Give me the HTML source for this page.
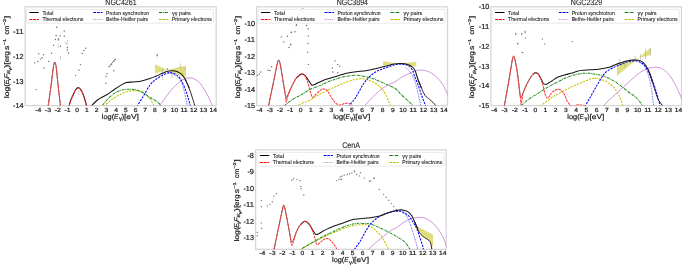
<!DOCTYPE html>
<html><head><meta charset="utf-8"><style>
html,body{margin:0;padding:0;background:#fff;}
svg{display:block;}
text{text-rendering:geometricPrecision;font-family:"Liberation Sans", sans-serif;fill:#1a1a1a;stroke:#1a1a1a;stroke-width:0.2px;}
</style></head><body>
<svg width="682" height="265" viewBox="0 0 682 265">
<rect width="682" height="265" fill="#fff"/>
<g style="will-change:transform" font-size="5.9">
<rect x="25.20" y="6.8" width="191.00" height="98.80" fill="none" stroke="#d6d6d6" stroke-width="1.3"/>
<clipPath id="cNGC4261"><rect x="25.5" y="6.8" width="190.90" height="98.80"/></clipPath>
<g clip-path="url(#cNGC4261)"><polygon points="154.9,64.3 167.5,70.1 185.8,65.6 185.8,78.2 167.5,70.1 154.9,73.4" fill="#dfdf80"/>
<line x1="78.8" y1="90.6" x2="78.8" y2="95.2" stroke="#9a9a9a" stroke-width="0.5"/>
<line x1="58.2" y1="44.5" x2="58.2" y2="48.2" stroke="#9a9a9a" stroke-width="0.5"/>
<line x1="67.2" y1="47.3" x2="67.2" y2="50.6" stroke="#9a9a9a" stroke-width="0.5"/>
<line x1="60.5" y1="55.5" x2="60.5" y2="59.6" stroke="#9a9a9a" stroke-width="0.5"/>
<line x1="67.4" y1="40" x2="67.4" y2="42.3" stroke="#9a9a9a" stroke-width="0.5"/>
<line x1="162.6" y1="68.7" x2="162.6" y2="80" stroke="#9a9a9a" stroke-width="0.5"/>
<line x1="172" y1="71.3" x2="172" y2="78.1" stroke="#9a9a9a" stroke-width="0.5"/>
<line x1="180.3" y1="63.4" x2="180.3" y2="69" stroke="#9a9a9a" stroke-width="0.5"/>
<line x1="185.2" y1="67.5" x2="185.2" y2="70.6" stroke="#9a9a9a" stroke-width="0.5"/>
<line x1="157.2" y1="53.5" x2="157.2" y2="57.2" stroke="#9a9a9a" stroke-width="0.5"/>
<line x1="65.6" y1="42.4" x2="67.6" y2="44.4" stroke="#8a8a8a" stroke-width="1.0"/>
<line x1="108.6" y1="67.2" x2="115.6" y2="58.8" stroke="#8a8a8a" stroke-width="1.0"/>
<circle cx="56.80" cy="27.20" r="0.72" fill="#6e6e6e"/>
<circle cx="64.20" cy="31.00" r="0.72" fill="#6e6e6e"/>
<circle cx="56.10" cy="35.50" r="0.72" fill="#6e6e6e"/>
<circle cx="60.10" cy="35.70" r="0.72" fill="#6e6e6e"/>
<circle cx="64.30" cy="36.30" r="0.72" fill="#6e6e6e"/>
<circle cx="55.40" cy="39.50" r="0.72" fill="#6e6e6e"/>
<circle cx="58.70" cy="39.00" r="0.72" fill="#6e6e6e"/>
<circle cx="58.20" cy="39.90" r="0.72" fill="#6e6e6e"/>
<circle cx="53.50" cy="45.20" r="0.72" fill="#6e6e6e"/>
<circle cx="60.50" cy="46.20" r="0.72" fill="#6e6e6e"/>
<circle cx="51.60" cy="53.20" r="0.72" fill="#6e6e6e"/>
<circle cx="38.80" cy="53.70" r="0.72" fill="#6e6e6e"/>
<circle cx="43.60" cy="54.80" r="0.72" fill="#6e6e6e"/>
<circle cx="42.00" cy="57.70" r="0.72" fill="#6e6e6e"/>
<circle cx="40.30" cy="59.10" r="0.72" fill="#6e6e6e"/>
<circle cx="37.90" cy="61.50" r="0.72" fill="#6e6e6e"/>
<circle cx="34.60" cy="62.90" r="0.72" fill="#6e6e6e"/>
<circle cx="48.80" cy="61.50" r="0.72" fill="#6e6e6e"/>
<circle cx="44.00" cy="68.00" r="0.72" fill="#6e6e6e"/>
<circle cx="67.40" cy="47.30" r="0.72" fill="#6e6e6e"/>
<circle cx="67.40" cy="50.10" r="0.72" fill="#6e6e6e"/>
<circle cx="68.60" cy="53.00" r="0.72" fill="#6e6e6e"/>
<circle cx="85.80" cy="48.20" r="0.72" fill="#6e6e6e"/>
<circle cx="83.90" cy="50.40" r="0.72" fill="#6e6e6e"/>
<circle cx="82.10" cy="53.40" r="0.72" fill="#6e6e6e"/>
<circle cx="80.40" cy="64.60" r="0.72" fill="#6e6e6e"/>
<circle cx="36.20" cy="89.60" r="0.72" fill="#6e6e6e"/>
<circle cx="78.90" cy="70.30" r="0.72" fill="#6e6e6e"/>
<circle cx="75.60" cy="75.60" r="0.72" fill="#6e6e6e"/>
<circle cx="113.80" cy="70.80" r="0.72" fill="#6e6e6e"/>
<circle cx="107.00" cy="73.70" r="0.72" fill="#6e6e6e"/>
<circle cx="106.10" cy="76.50" r="0.72" fill="#6e6e6e"/>
<circle cx="105.90" cy="83.20" r="0.72" fill="#6e6e6e"/>
<circle cx="157.20" cy="55.30" r="0.72" fill="#6e6e6e"/>
<circle cx="167.50" cy="69.00" r="0.72" fill="#6e6e6e"/>
<circle cx="109.20" cy="66.60" r="0.72" fill="#6e6e6e"/>
<circle cx="111.50" cy="64.30" r="0.72" fill="#6e6e6e"/>
<circle cx="114.00" cy="61.20" r="0.72" fill="#6e6e6e"/>
<circle cx="115.20" cy="59.50" r="0.72" fill="#6e6e6e"/>
<path d="M158.50,110.00 C158.72,109.27 158.60,107.73 159.80,105.60 C161.00,103.47 163.42,100.23 165.70,97.20 C167.98,94.17 170.88,90.18 173.50,87.40 C176.12,84.62 179.10,82.05 181.40,80.50 C183.70,78.95 185.50,78.50 187.30,78.10 C189.10,77.70 190.58,77.70 192.20,78.10 C193.82,78.50 195.62,79.57 197.00,80.50 C198.38,81.43 199.28,82.20 200.50,83.70 C201.72,85.20 203.05,87.45 204.30,89.50 C205.55,91.55 206.67,93.32 208.00,96.00 C209.33,98.68 211.38,103.27 212.30,105.60 C213.22,107.93 213.30,109.27 213.50,110.00" stroke="#c47ad2" stroke-width="0.8" fill="none"/>
<path d="M103.60,110.00 C103.72,109.33 102.98,107.68 104.30,106.00 C105.62,104.32 108.87,101.82 111.50,99.90 C114.13,97.98 117.23,95.95 120.10,94.50 C122.97,93.05 126.07,91.83 128.70,91.20 C131.33,90.57 133.52,90.50 135.90,90.70 C138.28,90.90 140.65,91.02 143.00,92.40 C145.35,93.78 148.18,96.80 150.00,99.00 C151.82,101.20 153.15,103.77 153.90,105.60 C154.65,107.43 154.40,109.27 154.50,110.00" stroke="#c4c400" stroke-width="1.05" fill="none" stroke-dasharray="2.2 1.1"/>
<path d="M101.50,110.00 C101.62,109.33 101.02,107.98 102.20,106.00 C103.38,104.02 106.33,100.37 108.60,98.10 C110.87,95.83 113.40,93.78 115.80,92.40 C118.20,91.02 120.62,90.33 123.00,89.80 C125.38,89.27 127.72,89.13 130.10,89.20 C132.48,89.27 135.15,89.62 137.30,90.20 C139.45,90.78 140.88,91.48 143.00,92.70 C145.12,93.92 147.85,96.15 150.00,97.50 C152.15,98.85 154.10,99.45 155.90,100.80 C157.70,102.15 159.87,104.07 160.80,105.60 C161.73,107.13 161.38,109.27 161.50,110.00" stroke="#1a8c1a" stroke-width="1.05" fill="none" stroke-dasharray="2.6 0.8 0.8 0.8"/>
<path d="M168.00,73.20 C168.67,73.27 170.67,73.13 172.00,73.60 C173.33,74.07 174.77,75.18 176.00,76.00 C177.23,76.82 178.40,77.17 179.40,78.50 C180.40,79.83 181.18,81.87 182.00,84.00 C182.82,86.13 183.42,87.70 184.30,91.30 C185.18,94.90 186.68,102.48 187.30,105.60 C187.92,108.72 187.88,109.27 188.00,110.00" stroke="#3333ff" stroke-width="0.8" fill="none" stroke-dasharray="0.8 0.8"/>
<path d="M136.50,110.00 C136.63,109.33 136.22,108.22 137.30,106.00 C138.38,103.78 140.88,100.20 143.00,96.70 C145.12,93.20 147.85,87.87 150.00,85.00 C152.15,82.13 153.93,81.07 155.90,79.50 C157.87,77.93 159.85,76.68 161.80,75.60 C163.75,74.52 165.97,73.47 167.60,73.00 C169.23,72.53 169.95,72.37 171.60,72.80 C173.25,73.23 175.87,74.32 177.50,75.60 C179.13,76.88 180.10,78.22 181.40,80.50 C182.70,82.78 184.17,86.37 185.30,89.30 C186.43,92.23 187.38,95.38 188.20,98.10 C189.02,100.82 189.77,103.62 190.20,105.60 C190.63,107.58 190.70,109.27 190.80,110.00" stroke="#0000ff" stroke-width="1.05" fill="none" stroke-dasharray="2.2 1.1"/>
<path d="M90.50,110.00 C90.73,109.27 90.85,107.18 91.90,105.60 C92.95,104.02 95.45,101.70 96.80,100.50 C98.15,99.30 98.27,99.40 100.00,98.40 C101.73,97.40 104.82,95.98 107.20,94.50 C109.58,93.02 111.92,91.10 114.30,89.50 C116.68,87.90 119.47,86.05 121.50,84.90 C123.53,83.75 124.58,83.10 126.50,82.60 C128.42,82.10 130.48,82.18 133.00,81.90 C135.52,81.62 138.77,81.47 141.60,80.90 C144.43,80.33 147.62,79.28 150.00,78.50 C152.38,77.72 153.93,77.02 155.90,76.20 C157.87,75.38 159.85,74.42 161.80,73.60 C163.75,72.78 165.82,71.78 167.60,71.30 C169.38,70.82 170.85,70.63 172.50,70.70 C174.15,70.77 176.02,71.12 177.50,71.70 C178.98,72.28 180.10,72.90 181.40,74.20 C182.70,75.50 184.00,77.15 185.30,79.50 C186.60,81.85 188.55,86.83 189.20,88.30" stroke="#141414" stroke-width="1.05" fill="none"/>
<path d="M185.30,79.50 C185.95,80.97 188.05,85.35 189.20,88.30 C190.35,91.25 191.28,94.32 192.20,97.20 C193.12,100.08 194.15,103.47 194.70,105.60 C195.25,107.73 195.37,109.27 195.50,110.00" stroke="#3b1838" stroke-width="1.0" fill="none"/>
<path d="M46.50,112.00 C46.78,110.93 47.42,110.20 48.20,105.60 C48.98,101.00 50.33,90.83 51.20,84.40 C52.07,77.97 52.82,70.68 53.40,67.00 C53.98,63.32 54.25,62.38 54.70,62.30 C55.15,62.22 55.55,62.82 56.10,66.50 C56.65,70.18 57.28,77.88 58.00,84.40 C58.72,90.92 59.87,101.00 60.40,105.60 C60.93,110.20 61.07,110.93 61.20,112.00" stroke="#404040" stroke-width="0.85" fill="none"/>
<path d="M68.60,109.55 C68.72,108.82 68.90,106.82 69.30,105.15 C69.70,103.48 70.27,101.48 71.00,99.55 C71.73,97.62 72.93,95.18 73.70,93.55 C74.47,91.92 74.88,90.73 75.60,89.75 C76.32,88.77 77.20,87.75 78.00,87.65 C78.80,87.55 79.60,88.17 80.40,89.15 C81.20,90.13 82.05,91.82 82.80,93.55 C83.55,95.28 84.30,97.62 84.90,99.55 C85.50,101.48 86.05,103.48 86.40,105.15 C86.75,106.82 86.90,108.82 87.00,109.55" stroke="#141414" stroke-width="1.1" fill="none"/>
<path d="M46.50,112.00 C46.78,110.93 47.42,110.20 48.20,105.60 C48.98,101.00 50.33,90.83 51.20,84.40 C52.07,77.97 52.82,70.68 53.40,67.00 C53.98,63.32 54.25,62.38 54.70,62.30 C55.15,62.22 55.55,62.82 56.10,66.50 C56.65,70.18 57.28,77.88 58.00,84.40 C58.72,90.92 59.87,101.00 60.40,105.60 C60.93,110.20 61.07,110.93 61.20,112.00 M68.60,110.00 C68.72,109.27 68.90,107.27 69.30,105.60 C69.70,103.93 70.27,101.93 71.00,100.00 C71.73,98.07 72.93,95.63 73.70,94.00 C74.47,92.37 74.88,91.18 75.60,90.20 C76.32,89.22 77.20,88.20 78.00,88.10 C78.80,88.00 79.60,88.62 80.40,89.60 C81.20,90.58 82.05,92.27 82.80,94.00 C83.55,95.73 84.30,98.07 84.90,100.00 C85.50,101.93 86.05,103.93 86.40,105.60 C86.75,107.27 86.90,109.27 87.00,110.00" stroke="#ff3a3a" stroke-width="1.05" fill="none" stroke-dasharray="2.6 0.8"/></g>
<line x1="38.30" y1="106.10" x2="38.30" y2="107.40" stroke="#e6e6e6" stroke-width="0.6"/>
<line x1="48.03" y1="106.10" x2="48.03" y2="107.40" stroke="#e6e6e6" stroke-width="0.6"/>
<line x1="57.75" y1="106.10" x2="57.75" y2="107.40" stroke="#e6e6e6" stroke-width="0.6"/>
<line x1="67.47" y1="106.10" x2="67.47" y2="107.40" stroke="#e6e6e6" stroke-width="0.6"/>
<line x1="77.19" y1="106.10" x2="77.19" y2="107.40" stroke="#e6e6e6" stroke-width="0.6"/>
<line x1="86.91" y1="106.10" x2="86.91" y2="107.40" stroke="#e6e6e6" stroke-width="0.6"/>
<line x1="96.64" y1="106.10" x2="96.64" y2="107.40" stroke="#e6e6e6" stroke-width="0.6"/>
<line x1="106.36" y1="106.10" x2="106.36" y2="107.40" stroke="#e6e6e6" stroke-width="0.6"/>
<line x1="116.08" y1="106.10" x2="116.08" y2="107.40" stroke="#e6e6e6" stroke-width="0.6"/>
<line x1="125.80" y1="106.10" x2="125.80" y2="107.40" stroke="#e6e6e6" stroke-width="0.6"/>
<line x1="135.52" y1="106.10" x2="135.52" y2="107.40" stroke="#e6e6e6" stroke-width="0.6"/>
<line x1="145.25" y1="106.10" x2="145.25" y2="107.40" stroke="#e6e6e6" stroke-width="0.6"/>
<line x1="154.97" y1="106.10" x2="154.97" y2="107.40" stroke="#e6e6e6" stroke-width="0.6"/>
<line x1="164.69" y1="106.10" x2="164.69" y2="107.40" stroke="#e6e6e6" stroke-width="0.6"/>
<line x1="174.41" y1="106.10" x2="174.41" y2="107.40" stroke="#e6e6e6" stroke-width="0.6"/>
<line x1="184.13" y1="106.10" x2="184.13" y2="107.40" stroke="#e6e6e6" stroke-width="0.6"/>
<line x1="193.85" y1="106.10" x2="193.85" y2="107.40" stroke="#e6e6e6" stroke-width="0.6"/>
<line x1="203.58" y1="106.10" x2="203.58" y2="107.40" stroke="#e6e6e6" stroke-width="0.6"/>
<line x1="213.30" y1="106.10" x2="213.30" y2="107.40" stroke="#e6e6e6" stroke-width="0.6"/>
<line x1="23.70" y1="105.60" x2="25.00" y2="105.60" stroke="#e6e6e6" stroke-width="0.6"/>
<line x1="23.70" y1="80.90" x2="25.00" y2="80.90" stroke="#e6e6e6" stroke-width="0.6"/>
<line x1="23.70" y1="56.20" x2="25.00" y2="56.20" stroke="#e6e6e6" stroke-width="0.6"/>
<line x1="23.70" y1="31.50" x2="25.00" y2="31.50" stroke="#e6e6e6" stroke-width="0.6"/>
<text x="38.30" y="111.60" text-anchor="middle" textLength="6.12" lengthAdjust="spacingAndGlyphs">-4</text>
<text x="48.03" y="111.60" text-anchor="middle" textLength="6.12" lengthAdjust="spacingAndGlyphs">-3</text>
<text x="57.75" y="111.60" text-anchor="middle" textLength="6.12" lengthAdjust="spacingAndGlyphs">-2</text>
<text x="67.47" y="111.60" text-anchor="middle" textLength="6.12" lengthAdjust="spacingAndGlyphs">-1</text>
<text x="77.19" y="111.60" text-anchor="middle" textLength="3.72" lengthAdjust="spacingAndGlyphs">0</text>
<text x="86.91" y="111.60" text-anchor="middle" textLength="3.72" lengthAdjust="spacingAndGlyphs">1</text>
<text x="96.64" y="111.60" text-anchor="middle" textLength="3.72" lengthAdjust="spacingAndGlyphs">2</text>
<text x="106.36" y="111.60" text-anchor="middle" textLength="3.72" lengthAdjust="spacingAndGlyphs">3</text>
<text x="116.08" y="111.60" text-anchor="middle" textLength="3.72" lengthAdjust="spacingAndGlyphs">4</text>
<text x="125.80" y="111.60" text-anchor="middle" textLength="3.72" lengthAdjust="spacingAndGlyphs">5</text>
<text x="135.52" y="111.60" text-anchor="middle" textLength="3.72" lengthAdjust="spacingAndGlyphs">6</text>
<text x="145.25" y="111.60" text-anchor="middle" textLength="3.72" lengthAdjust="spacingAndGlyphs">7</text>
<text x="154.97" y="111.60" text-anchor="middle" textLength="3.72" lengthAdjust="spacingAndGlyphs">8</text>
<text x="164.69" y="111.60" text-anchor="middle" textLength="3.72" lengthAdjust="spacingAndGlyphs">9</text>
<text x="174.41" y="111.60" text-anchor="middle" textLength="7.44" lengthAdjust="spacingAndGlyphs">10</text>
<text x="184.13" y="111.60" text-anchor="middle" textLength="7.44" lengthAdjust="spacingAndGlyphs">11</text>
<text x="193.85" y="111.60" text-anchor="middle" textLength="7.44" lengthAdjust="spacingAndGlyphs">12</text>
<text x="203.58" y="111.60" text-anchor="middle" textLength="7.44" lengthAdjust="spacingAndGlyphs">13</text>
<text x="213.30" y="111.60" text-anchor="middle" textLength="7.44" lengthAdjust="spacingAndGlyphs">14</text>
<text x="23.50" y="108.20" text-anchor="end" font-size="7.3" textLength="10.43" lengthAdjust="spacingAndGlyphs">-14</text>
<text x="23.50" y="83.50" text-anchor="end" font-size="7.3" textLength="10.43" lengthAdjust="spacingAndGlyphs">-13</text>
<text x="23.50" y="58.80" text-anchor="end" font-size="7.3" textLength="10.43" lengthAdjust="spacingAndGlyphs">-12</text>
<text x="23.50" y="34.10" text-anchor="end" font-size="7.3" textLength="10.43" lengthAdjust="spacingAndGlyphs">-11</text>
<text x="101.80" y="118.70" font-size="7.0" textLength="12.30" lengthAdjust="spacingAndGlyphs">log(</text>
<text x="114.00" y="118.70" font-size="7.0" textLength="4.30" lengthAdjust="spacingAndGlyphs" font-style="italic">E</text>
<text x="118.90" y="120.20" font-size="5.2" textLength="3.00" lengthAdjust="spacingAndGlyphs">γ</text>
<text x="121.70" y="118.70" font-size="7.0" textLength="2.40" lengthAdjust="spacingAndGlyphs">)</text>
<text x="123.90" y="118.70" font-size="7.0" textLength="15.00" lengthAdjust="spacingAndGlyphs">[eV]</text>
<g transform="translate(8.50,98.00) rotate(-90)"><text x="-0.25" y="0" font-size="6.8" textLength="14.40" lengthAdjust="spacingAndGlyphs">log(</text><text x="13.65" y="0" font-size="6.8" textLength="4.40" lengthAdjust="spacingAndGlyphs" font-style="italic">E</text><text x="17.25" y="1.4" font-size="4.5" textLength="2.50" lengthAdjust="spacingAndGlyphs">γ</text><text x="19.45" y="0" font-size="6.8" textLength="4.70" lengthAdjust="spacingAndGlyphs" font-style="italic">F</text><text x="23.95" y="1.4" font-size="4.4" textLength="3.70" lengthAdjust="spacingAndGlyphs" font-style="italic">E</text><text x="27.15" y="2.0" font-size="3.2" textLength="3.10" lengthAdjust="spacingAndGlyphs">γ</text><text x="29.95" y="0" font-size="6.8" textLength="6.20" lengthAdjust="spacingAndGlyphs">)[</text><text x="35.65" y="0" font-size="6.8" textLength="11.20" lengthAdjust="spacingAndGlyphs">erg</text><text x="48.05" y="0" font-size="6.8" textLength="4.40" lengthAdjust="spacingAndGlyphs">s</text><text x="52.65" y="-3.0" font-size="4.2" textLength="6.50" lengthAdjust="spacingAndGlyphs">−1</text><text x="63.45" y="0" font-size="6.8" textLength="9.00" lengthAdjust="spacingAndGlyphs">cm</text><text x="72.65" y="-3.0" font-size="4.2" textLength="6.50" lengthAdjust="spacingAndGlyphs">−2</text><text x="79.45" y="0" font-size="6.8" textLength="2.70" lengthAdjust="spacingAndGlyphs">]</text></g>
<text x="120.95" y="5.10" text-anchor="middle" font-size="8.3" style="stroke-width:0.1px" textLength="31.3" lengthAdjust="spacingAndGlyphs">NGC4261</text>
<rect x="26.50" y="9.40" width="187" height="13.8" rx="1.2" fill="#fff" fill-opacity="0.8" stroke="#e4e4e4" stroke-width="0.8"/>
<line x1="29.40" y1="12.50" x2="38.80" y2="12.50" stroke="#000" stroke-width="1.0"/>
<text x="42.40" y="14.50" font-size="5.7" style="stroke-width:0.1px" textLength="11.0" lengthAdjust="spacingAndGlyphs">Total</text>
<line x1="29.40" y1="19.50" x2="38.80" y2="19.50" stroke="#ff0000" stroke-width="1.0" stroke-dasharray="3.0 0.75"/>
<text x="42.40" y="21.20" font-size="5.7" style="stroke-width:0.1px" textLength="41.0" lengthAdjust="spacingAndGlyphs">Thermal electrons</text>
<line x1="93.20" y1="12.50" x2="102.60" y2="12.50" stroke="#0000ff" stroke-width="1.0" stroke-dasharray="3.0 0.75"/>
<text x="106.00" y="14.50" font-size="5.7" style="stroke-width:0.1px" textLength="43.2" lengthAdjust="spacingAndGlyphs">Proton synchrotron</text>
<line x1="93.20" y1="19.50" x2="102.60" y2="19.50" stroke="#c47ad2" stroke-width="1.0" stroke-dasharray="0.9 0.9"/>
<text x="106.00" y="21.20" font-size="5.7" style="stroke-width:0.1px" textLength="42.1" lengthAdjust="spacingAndGlyphs">Bethe-Heitler pairs</text>
<line x1="159.00" y1="12.50" x2="168.40" y2="12.50" stroke="#008000" stroke-width="1.0" stroke-dasharray="3.2 0.8 0.8 0.8"/>
<text x="171.90" y="14.50" font-size="5.7" style="stroke-width:0.1px" textLength="19.0" lengthAdjust="spacingAndGlyphs">γγ pairs</text>
<line x1="159.00" y1="19.50" x2="168.40" y2="19.50" stroke="#bfbf00" stroke-width="1.0" stroke-dasharray="3.0 0.75"/>
<text x="171.90" y="21.20" font-size="5.7" style="stroke-width:0.1px" textLength="40.0" lengthAdjust="spacingAndGlyphs">Primary electrons</text>
<rect x="256.70" y="6.8" width="190.80" height="98.80" fill="none" stroke="#d6d6d6" stroke-width="1.3"/>
<clipPath id="cNGC3894"><rect x="257.0" y="6.8" width="190.70" height="98.80"/></clipPath>
<g clip-path="url(#cNGC3894)"><polygon points="383.1,60.9 398,63.7 416.3,61.8 416.3,66.8 398,63.7 383.1,65.4" fill="#dfdf80"/>
<circle cx="271.60" cy="66.80" r="0.72" fill="#6e6e6e"/>
<circle cx="268.00" cy="70.30" r="0.72" fill="#6e6e6e"/>
<circle cx="270.00" cy="70.50" r="0.72" fill="#6e6e6e"/>
<circle cx="260.80" cy="72.00" r="0.72" fill="#6e6e6e"/>
<circle cx="259.40" cy="73.90" r="0.72" fill="#6e6e6e"/>
<circle cx="257.60" cy="75.30" r="0.72" fill="#6e6e6e"/>
<circle cx="308.40" cy="64.40" r="0.72" fill="#6e6e6e"/>
<circle cx="335.00" cy="60.90" r="0.72" fill="#6e6e6e"/>
<circle cx="337.70" cy="64.40" r="0.72" fill="#6e6e6e"/>
<circle cx="339.80" cy="66.20" r="0.72" fill="#6e6e6e"/>
<circle cx="332.40" cy="68.00" r="0.72" fill="#6e6e6e"/>
<circle cx="332.70" cy="72.00" r="0.72" fill="#6e6e6e"/>
<circle cx="337.70" cy="72.70" r="0.72" fill="#6e6e6e"/>
<circle cx="296.50" cy="25.30" r="0.72" fill="#6e6e6e"/>
<circle cx="291.20" cy="32.40" r="0.72" fill="#6e6e6e"/>
<circle cx="295.00" cy="31.80" r="0.72" fill="#6e6e6e"/>
<circle cx="281.40" cy="36.90" r="0.72" fill="#6e6e6e"/>
<circle cx="287.40" cy="36.30" r="0.72" fill="#6e6e6e"/>
<circle cx="283.70" cy="41.90" r="0.72" fill="#6e6e6e"/>
<circle cx="290.50" cy="44.90" r="0.72" fill="#6e6e6e"/>
<circle cx="289.00" cy="47.50" r="0.72" fill="#6e6e6e"/>
<circle cx="296.40" cy="24.90" r="0.72" fill="#6e6e6e"/>
<circle cx="306.60" cy="25.50" r="0.72" fill="#6e6e6e"/>
<circle cx="308.10" cy="28.80" r="0.72" fill="#6e6e6e"/>
<circle cx="291.50" cy="32.20" r="0.72" fill="#6e6e6e"/>
<circle cx="290.80" cy="44.20" r="0.72" fill="#6e6e6e"/>
<circle cx="308.10" cy="43.50" r="0.72" fill="#6e6e6e"/>
<circle cx="307.70" cy="52.20" r="0.72" fill="#6e6e6e"/>
<circle cx="308.30" cy="36.00" r="0.72" fill="#6e6e6e"/>
<circle cx="302.60" cy="8.50" r="0.72" fill="#a0a0a0"/>
<circle cx="301.00" cy="10.80" r="0.72" fill="#a0a0a0"/>
<circle cx="303.80" cy="11.90" r="0.72" fill="#a0a0a0"/>
<circle cx="298.70" cy="14.20" r="0.72" fill="#a0a0a0"/>
<circle cx="305.50" cy="15.90" r="0.72" fill="#a0a0a0"/>
<path d="M363.00,110.00 C363.30,109.27 362.70,108.23 364.80,105.60 C366.90,102.97 372.17,97.40 375.60,94.20 C379.03,91.00 382.17,88.48 385.40,86.40 C388.63,84.32 392.38,83.17 395.00,81.70 C397.62,80.23 399.35,78.67 401.10,77.60 C402.85,76.53 404.00,76.05 405.50,75.30 C407.00,74.55 408.57,73.82 410.10,73.10 C411.63,72.38 413.18,71.48 414.70,71.00 C416.22,70.52 417.65,70.32 419.20,70.20 C420.75,70.08 422.12,69.90 424.00,70.30 C425.88,70.70 428.23,71.33 430.50,72.60 C432.77,73.87 435.53,75.87 437.60,77.90 C439.67,79.93 441.28,82.17 442.90,84.80 C444.52,87.43 446.28,91.67 447.30,93.70 C448.32,95.73 448.72,96.45 449.00,97.00" stroke="#c47ad2" stroke-width="0.8" fill="none"/>
<path d="M296.00,110.00 C296.22,109.27 294.88,107.30 297.30,105.60 C299.72,103.90 306.82,101.65 310.50,99.80 C314.18,97.95 316.35,96.18 319.40,94.50 C322.45,92.82 325.75,91.17 328.80,89.70 C331.85,88.23 334.75,86.97 337.70,85.70 C340.65,84.43 343.55,83.13 346.50,82.10 C349.45,81.07 352.52,80.03 355.40,79.50 C358.28,78.97 361.08,78.57 363.80,78.90 C366.52,79.23 369.08,80.25 371.70,81.50 C374.32,82.75 377.22,84.28 379.50,86.40 C381.78,88.52 383.60,91.00 385.40,94.20 C387.20,97.40 389.37,102.97 390.30,105.60 C391.23,108.23 390.88,109.27 391.00,110.00" stroke="#c4c400" stroke-width="1.05" fill="none" stroke-dasharray="2.2 1.1"/>
<path d="M282.00,110.00 C282.42,109.27 282.70,107.38 284.50,105.60 C286.30,103.82 289.93,101.15 292.80,99.30 C295.67,97.45 298.75,96.18 301.70,94.50 C304.65,92.82 307.55,90.67 310.50,89.20 C313.45,87.73 316.35,86.98 319.40,85.70 C322.45,84.42 325.75,82.70 328.80,81.50 C331.85,80.30 334.75,79.37 337.70,78.50 C340.65,77.63 343.45,76.83 346.50,76.30 C349.55,75.77 352.78,75.25 356.00,75.30 C359.22,75.35 362.53,75.90 365.80,76.60 C369.07,77.30 372.33,78.27 375.60,79.50 C378.87,80.73 382.15,82.50 385.40,84.00 C388.65,85.50 392.32,86.58 395.10,88.50 C397.88,90.42 399.75,93.30 402.10,95.50 C404.45,97.70 407.43,100.00 409.20,101.70 C410.97,103.40 411.98,104.32 412.70,105.70 C413.42,107.08 413.37,109.28 413.50,110.00" stroke="#1a8c1a" stroke-width="1.05" fill="none" stroke-dasharray="2.6 0.8 0.8 0.8"/>
<path d="M405.60,67.40 C406.35,68.20 408.82,70.50 410.10,72.20 C411.38,73.90 412.38,75.72 413.30,77.60 C414.22,79.48 414.77,80.67 415.60,83.50 C416.43,86.33 417.42,90.90 418.30,94.60 C419.18,98.30 420.38,103.13 420.90,105.70 C421.42,108.27 421.32,109.28 421.40,110.00" stroke="#3333ff" stroke-width="0.8" fill="none" stroke-dasharray="0.8 0.8"/>
<path d="M347.50,110.00 C347.78,109.27 347.88,107.60 349.20,105.60 C350.52,103.60 353.28,101.20 355.40,98.00 C357.52,94.80 359.83,89.65 361.90,86.40 C363.97,83.15 365.45,80.95 367.80,78.50 C370.15,76.05 373.12,73.43 376.00,71.70 C378.88,69.97 382.08,69.23 385.10,68.10 C388.12,66.97 391.38,65.53 394.10,64.90 C396.82,64.27 399.13,64.22 401.40,64.30 C403.67,64.38 405.90,64.53 407.70,65.40 C409.50,66.27 411.07,67.73 412.20,69.50 C413.33,71.27 413.53,73.45 414.50,76.00 C415.47,78.55 416.82,81.55 418.00,84.80 C419.18,88.05 420.55,92.53 421.60,95.50 C422.65,98.47 423.65,100.90 424.30,102.60 C424.95,104.30 425.22,104.47 425.50,105.70 C425.78,106.93 425.92,109.28 426.00,110.00" stroke="#0000ff" stroke-width="1.05" fill="none" stroke-dasharray="2.2 1.1"/>
<path d="M296.20,78.20 C296.98,77.53 299.55,74.75 300.90,74.20 C302.25,73.65 303.05,73.90 304.30,74.90 C305.55,75.90 307.15,78.52 308.40,80.20 C309.65,81.88 310.67,84.33 311.80,85.00 C312.93,85.67 313.50,84.88 315.20,84.20 C316.90,83.52 319.53,81.90 322.00,80.90 C324.47,79.90 327.38,79.03 330.00,78.20 C332.62,77.37 334.95,76.72 337.70,75.90 C340.45,75.08 343.45,74.00 346.50,73.30 C349.55,72.60 352.78,72.13 356.00,71.70 C359.22,71.27 362.53,71.20 365.80,70.70 C369.07,70.20 372.38,69.43 375.60,68.70 C378.82,67.97 382.02,67.08 385.10,66.30 C388.18,65.52 391.38,64.45 394.10,64.00 C396.82,63.55 399.13,63.52 401.40,63.60 C403.67,63.68 405.90,63.97 407.70,64.50 C409.50,65.03 410.98,65.82 412.20,66.80 C413.42,67.78 414.03,68.28 415.00,70.40 C415.97,72.52 416.90,76.50 418.00,79.50 C419.10,82.50 421.00,86.92 421.60,88.40" stroke="#141414" stroke-width="1.05" fill="none"/>
<path d="M418.00,79.50 C418.60,80.98 420.42,85.73 421.60,88.40 C422.78,91.07 423.77,93.67 425.10,95.50 C426.43,97.33 428.27,98.22 429.60,99.40 C430.93,100.58 432.07,101.55 433.10,102.60 C434.13,103.65 435.15,104.47 435.80,105.70 C436.45,106.93 436.80,109.28 437.00,110.00" stroke="#3b1838" stroke-width="1.0" fill="none"/>
<path d="M267.80,110.00 C267.93,109.25 267.65,110.17 268.60,105.50 C269.55,100.83 272.07,88.92 273.50,82.00 C274.93,75.08 276.35,67.62 277.20,64.00 C278.05,60.38 278.10,60.30 278.60,60.30 C279.10,60.30 279.43,60.38 280.20,64.00 C280.97,67.62 282.22,76.50 283.20,82.00 C284.18,87.50 285.30,94.93 286.10,97.00 C286.90,99.07 287.00,96.28 288.00,94.40 C289.00,92.52 290.73,88.40 292.10,85.70 C293.47,83.00 294.73,80.12 296.20,78.20 C297.67,76.28 299.55,74.75 300.90,74.20 C302.25,73.65 303.73,74.78 304.30,74.90" stroke="#404040" stroke-width="0.85" fill="none"/>
<path d="M267.80,110.00 C267.93,109.25 267.65,110.17 268.60,105.50 C269.55,100.83 272.07,88.92 273.50,82.00 C274.93,75.08 276.35,67.62 277.20,64.00 C278.05,60.38 278.10,60.30 278.60,60.30 C279.10,60.30 279.43,60.38 280.20,64.00 C280.97,67.62 282.30,76.50 283.20,82.00 C284.10,87.50 285.08,93.67 285.60,97.00 C286.12,100.33 285.87,102.33 286.30,102.00 C286.73,101.67 287.23,97.72 288.20,95.00 C289.17,92.28 290.77,88.50 292.10,85.70 C293.43,82.90 294.73,80.12 296.20,78.20 C297.67,76.28 299.55,74.70 300.90,74.20 C302.25,73.70 303.22,74.02 304.30,75.20 C305.38,76.38 306.53,79.05 307.40,81.30 C308.27,83.55 308.88,86.50 309.50,88.70 C310.12,90.90 310.58,93.05 311.10,94.50 C311.62,95.95 311.82,97.40 312.60,97.40 C313.38,97.40 314.55,95.67 315.80,94.50 C317.05,93.33 318.82,91.33 320.10,90.40 C321.38,89.47 322.27,88.83 323.50,88.90 C324.73,88.97 326.32,89.57 327.50,90.80 C328.68,92.03 329.35,94.35 330.60,96.30 C331.85,98.25 333.52,101.03 335.00,102.50 C336.48,103.97 337.87,104.95 339.50,105.10 C341.13,105.25 343.18,103.65 344.80,103.40 C346.42,103.15 348.02,103.27 349.20,103.60 C350.38,103.93 351.27,104.33 351.90,105.40 C352.53,106.47 352.82,109.23 353.00,110.00" stroke="#ff3a3a" stroke-width="1.05" fill="none" stroke-dasharray="2.6 0.8"/></g>
<line x1="259.60" y1="106.10" x2="259.60" y2="107.40" stroke="#e6e6e6" stroke-width="0.6"/>
<line x1="269.85" y1="106.10" x2="269.85" y2="107.40" stroke="#e6e6e6" stroke-width="0.6"/>
<line x1="280.10" y1="106.10" x2="280.10" y2="107.40" stroke="#e6e6e6" stroke-width="0.6"/>
<line x1="290.35" y1="106.10" x2="290.35" y2="107.40" stroke="#e6e6e6" stroke-width="0.6"/>
<line x1="300.60" y1="106.10" x2="300.60" y2="107.40" stroke="#e6e6e6" stroke-width="0.6"/>
<line x1="310.85" y1="106.10" x2="310.85" y2="107.40" stroke="#e6e6e6" stroke-width="0.6"/>
<line x1="321.10" y1="106.10" x2="321.10" y2="107.40" stroke="#e6e6e6" stroke-width="0.6"/>
<line x1="331.35" y1="106.10" x2="331.35" y2="107.40" stroke="#e6e6e6" stroke-width="0.6"/>
<line x1="341.60" y1="106.10" x2="341.60" y2="107.40" stroke="#e6e6e6" stroke-width="0.6"/>
<line x1="351.85" y1="106.10" x2="351.85" y2="107.40" stroke="#e6e6e6" stroke-width="0.6"/>
<line x1="362.10" y1="106.10" x2="362.10" y2="107.40" stroke="#e6e6e6" stroke-width="0.6"/>
<line x1="372.35" y1="106.10" x2="372.35" y2="107.40" stroke="#e6e6e6" stroke-width="0.6"/>
<line x1="382.60" y1="106.10" x2="382.60" y2="107.40" stroke="#e6e6e6" stroke-width="0.6"/>
<line x1="392.85" y1="106.10" x2="392.85" y2="107.40" stroke="#e6e6e6" stroke-width="0.6"/>
<line x1="403.10" y1="106.10" x2="403.10" y2="107.40" stroke="#e6e6e6" stroke-width="0.6"/>
<line x1="413.35" y1="106.10" x2="413.35" y2="107.40" stroke="#e6e6e6" stroke-width="0.6"/>
<line x1="423.60" y1="106.10" x2="423.60" y2="107.40" stroke="#e6e6e6" stroke-width="0.6"/>
<line x1="433.85" y1="106.10" x2="433.85" y2="107.40" stroke="#e6e6e6" stroke-width="0.6"/>
<line x1="444.10" y1="106.10" x2="444.10" y2="107.40" stroke="#e6e6e6" stroke-width="0.6"/>
<line x1="255.20" y1="105.60" x2="256.50" y2="105.60" stroke="#e6e6e6" stroke-width="0.6"/>
<line x1="255.20" y1="89.13" x2="256.50" y2="89.13" stroke="#e6e6e6" stroke-width="0.6"/>
<line x1="255.20" y1="72.67" x2="256.50" y2="72.67" stroke="#e6e6e6" stroke-width="0.6"/>
<line x1="255.20" y1="56.20" x2="256.50" y2="56.20" stroke="#e6e6e6" stroke-width="0.6"/>
<line x1="255.20" y1="39.73" x2="256.50" y2="39.73" stroke="#e6e6e6" stroke-width="0.6"/>
<line x1="255.20" y1="23.27" x2="256.50" y2="23.27" stroke="#e6e6e6" stroke-width="0.6"/>
<text x="259.60" y="111.60" text-anchor="middle" textLength="6.12" lengthAdjust="spacingAndGlyphs">-4</text>
<text x="269.85" y="111.60" text-anchor="middle" textLength="6.12" lengthAdjust="spacingAndGlyphs">-3</text>
<text x="280.10" y="111.60" text-anchor="middle" textLength="6.12" lengthAdjust="spacingAndGlyphs">-2</text>
<text x="290.35" y="111.60" text-anchor="middle" textLength="6.12" lengthAdjust="spacingAndGlyphs">-1</text>
<text x="300.60" y="111.60" text-anchor="middle" textLength="3.72" lengthAdjust="spacingAndGlyphs">0</text>
<text x="310.85" y="111.60" text-anchor="middle" textLength="3.72" lengthAdjust="spacingAndGlyphs">1</text>
<text x="321.10" y="111.60" text-anchor="middle" textLength="3.72" lengthAdjust="spacingAndGlyphs">2</text>
<text x="331.35" y="111.60" text-anchor="middle" textLength="3.72" lengthAdjust="spacingAndGlyphs">3</text>
<text x="341.60" y="111.60" text-anchor="middle" textLength="3.72" lengthAdjust="spacingAndGlyphs">4</text>
<text x="351.85" y="111.60" text-anchor="middle" textLength="3.72" lengthAdjust="spacingAndGlyphs">5</text>
<text x="362.10" y="111.60" text-anchor="middle" textLength="3.72" lengthAdjust="spacingAndGlyphs">6</text>
<text x="372.35" y="111.60" text-anchor="middle" textLength="3.72" lengthAdjust="spacingAndGlyphs">7</text>
<text x="382.60" y="111.60" text-anchor="middle" textLength="3.72" lengthAdjust="spacingAndGlyphs">8</text>
<text x="392.85" y="111.60" text-anchor="middle" textLength="3.72" lengthAdjust="spacingAndGlyphs">9</text>
<text x="403.10" y="111.60" text-anchor="middle" textLength="7.44" lengthAdjust="spacingAndGlyphs">10</text>
<text x="413.35" y="111.60" text-anchor="middle" textLength="7.44" lengthAdjust="spacingAndGlyphs">11</text>
<text x="423.60" y="111.60" text-anchor="middle" textLength="7.44" lengthAdjust="spacingAndGlyphs">12</text>
<text x="433.85" y="111.60" text-anchor="middle" textLength="7.44" lengthAdjust="spacingAndGlyphs">13</text>
<text x="444.10" y="111.60" text-anchor="middle" textLength="7.44" lengthAdjust="spacingAndGlyphs">14</text>
<text x="255.00" y="108.20" text-anchor="end" font-size="7.3" textLength="10.43" lengthAdjust="spacingAndGlyphs">-15</text>
<text x="255.00" y="91.73" text-anchor="end" font-size="7.3" textLength="10.43" lengthAdjust="spacingAndGlyphs">-14</text>
<text x="255.00" y="75.27" text-anchor="end" font-size="7.3" textLength="10.43" lengthAdjust="spacingAndGlyphs">-13</text>
<text x="255.00" y="58.80" text-anchor="end" font-size="7.3" textLength="10.43" lengthAdjust="spacingAndGlyphs">-12</text>
<text x="255.00" y="42.33" text-anchor="end" font-size="7.3" textLength="10.43" lengthAdjust="spacingAndGlyphs">-11</text>
<text x="255.00" y="25.87" text-anchor="end" font-size="7.3" textLength="10.43" lengthAdjust="spacingAndGlyphs">-10</text>
<text x="333.20" y="118.70" font-size="7.0" textLength="12.30" lengthAdjust="spacingAndGlyphs">log(</text>
<text x="345.40" y="118.70" font-size="7.0" textLength="4.30" lengthAdjust="spacingAndGlyphs" font-style="italic">E</text>
<text x="350.30" y="120.20" font-size="5.2" textLength="3.00" lengthAdjust="spacingAndGlyphs">γ</text>
<text x="353.10" y="118.70" font-size="7.0" textLength="2.40" lengthAdjust="spacingAndGlyphs">)</text>
<text x="355.30" y="118.70" font-size="7.0" textLength="15.00" lengthAdjust="spacingAndGlyphs">[eV]</text>
<g transform="translate(240.00,98.00) rotate(-90)"><text x="-0.25" y="0" font-size="6.8" textLength="14.40" lengthAdjust="spacingAndGlyphs">log(</text><text x="13.65" y="0" font-size="6.8" textLength="4.40" lengthAdjust="spacingAndGlyphs" font-style="italic">E</text><text x="17.25" y="1.4" font-size="4.5" textLength="2.50" lengthAdjust="spacingAndGlyphs">γ</text><text x="19.45" y="0" font-size="6.8" textLength="4.70" lengthAdjust="spacingAndGlyphs" font-style="italic">F</text><text x="23.95" y="1.4" font-size="4.4" textLength="3.70" lengthAdjust="spacingAndGlyphs" font-style="italic">E</text><text x="27.15" y="2.0" font-size="3.2" textLength="3.10" lengthAdjust="spacingAndGlyphs">γ</text><text x="29.95" y="0" font-size="6.8" textLength="6.20" lengthAdjust="spacingAndGlyphs">)[</text><text x="35.65" y="0" font-size="6.8" textLength="11.20" lengthAdjust="spacingAndGlyphs">erg</text><text x="48.05" y="0" font-size="6.8" textLength="4.40" lengthAdjust="spacingAndGlyphs">s</text><text x="52.65" y="-3.0" font-size="4.2" textLength="6.50" lengthAdjust="spacingAndGlyphs">−1</text><text x="63.45" y="0" font-size="6.8" textLength="9.00" lengthAdjust="spacingAndGlyphs">cm</text><text x="72.65" y="-3.0" font-size="4.2" textLength="6.50" lengthAdjust="spacingAndGlyphs">−2</text><text x="79.45" y="0" font-size="6.8" textLength="2.70" lengthAdjust="spacingAndGlyphs">]</text></g>
<text x="352.35" y="5.10" text-anchor="middle" font-size="8.3" style="stroke-width:0.1px" textLength="31.3" lengthAdjust="spacingAndGlyphs">NGC3894</text>
<rect x="258.00" y="9.40" width="187" height="13.8" rx="1.2" fill="#fff" fill-opacity="0.8" stroke="#e4e4e4" stroke-width="0.8"/>
<line x1="260.90" y1="12.50" x2="270.30" y2="12.50" stroke="#000" stroke-width="1.0"/>
<text x="273.90" y="14.50" font-size="5.7" style="stroke-width:0.1px" textLength="11.0" lengthAdjust="spacingAndGlyphs">Total</text>
<line x1="260.90" y1="19.50" x2="270.30" y2="19.50" stroke="#ff0000" stroke-width="1.0" stroke-dasharray="3.0 0.75"/>
<text x="273.90" y="21.20" font-size="5.7" style="stroke-width:0.1px" textLength="41.0" lengthAdjust="spacingAndGlyphs">Thermal electrons</text>
<line x1="324.70" y1="12.50" x2="334.10" y2="12.50" stroke="#0000ff" stroke-width="1.0" stroke-dasharray="3.0 0.75"/>
<text x="337.50" y="14.50" font-size="5.7" style="stroke-width:0.1px" textLength="43.2" lengthAdjust="spacingAndGlyphs">Proton synchrotron</text>
<line x1="324.70" y1="19.50" x2="334.10" y2="19.50" stroke="#c47ad2" stroke-width="1.0" stroke-dasharray="0.9 0.9"/>
<text x="337.50" y="21.20" font-size="5.7" style="stroke-width:0.1px" textLength="42.1" lengthAdjust="spacingAndGlyphs">Bethe-Heitler pairs</text>
<line x1="390.50" y1="12.50" x2="399.90" y2="12.50" stroke="#008000" stroke-width="1.0" stroke-dasharray="3.2 0.8 0.8 0.8"/>
<text x="403.40" y="14.50" font-size="5.7" style="stroke-width:0.1px" textLength="19.0" lengthAdjust="spacingAndGlyphs">γγ pairs</text>
<line x1="390.50" y1="19.50" x2="399.90" y2="19.50" stroke="#bfbf00" stroke-width="1.0" stroke-dasharray="3.0 0.75"/>
<text x="403.40" y="21.20" font-size="5.7" style="stroke-width:0.1px" textLength="40.0" lengthAdjust="spacingAndGlyphs">Primary electrons</text>
<rect x="490.90" y="6.8" width="190.60" height="98.80" fill="none" stroke="#d6d6d6" stroke-width="1.3"/>
<clipPath id="cNGC2329"><rect x="491.2" y="6.8" width="190.50" height="98.80"/></clipPath>
<g clip-path="url(#cNGC2329)"><polygon points="617,63 638.3,57.9 650.7,54.9 650.7,47.4 638.3,57.9 617,76" fill="#dfdf80"/>
<line x1="515.7" y1="32.6" x2="515.7" y2="35.4" stroke="#9a9a9a" stroke-width="0.5"/>
<line x1="521.8" y1="32.6" x2="521.8" y2="35.4" stroke="#9a9a9a" stroke-width="0.5"/>
<line x1="525.1" y1="30.4" x2="525.1" y2="33.8" stroke="#9a9a9a" stroke-width="0.5"/>
<line x1="517.8" y1="42.3" x2="517.8" y2="45.2" stroke="#9a9a9a" stroke-width="0.5"/>
<line x1="619.7" y1="58.3" x2="619.7" y2="64.4" stroke="#9a9a9a" stroke-width="0.5"/>
<line x1="624.9" y1="62.4" x2="624.9" y2="67.1" stroke="#9a9a9a" stroke-width="0.5"/>
<line x1="630" y1="57.6" x2="630" y2="62.4" stroke="#9a9a9a" stroke-width="0.5"/>
<line x1="635.1" y1="55.6" x2="635.1" y2="60.3" stroke="#9a9a9a" stroke-width="0.5"/>
<line x1="640.5" y1="54.2" x2="640.5" y2="59.7" stroke="#9a9a9a" stroke-width="0.5"/>
<line x1="645.5" y1="48.8" x2="645.5" y2="59" stroke="#9a9a9a" stroke-width="0.5"/>
<line x1="650.4" y1="48.1" x2="650.4" y2="55.6" stroke="#9a9a9a" stroke-width="0.5"/>
<circle cx="522.50" cy="52.60" r="0.72" fill="#6e6e6e"/>
<circle cx="515.70" cy="34.00" r="0.72" fill="#6e6e6e"/>
<circle cx="521.80" cy="34.00" r="0.72" fill="#6e6e6e"/>
<circle cx="525.10" cy="32.00" r="0.72" fill="#6e6e6e"/>
<circle cx="525.40" cy="38.10" r="0.72" fill="#6e6e6e"/>
<circle cx="517.80" cy="43.70" r="0.72" fill="#6e6e6e"/>
<circle cx="542.40" cy="38.90" r="0.72" fill="#6e6e6e"/>
<circle cx="544.70" cy="44.10" r="0.72" fill="#6e6e6e"/>
<circle cx="522.50" cy="52.40" r="0.72" fill="#6e6e6e"/>
<circle cx="572.30" cy="41.60" r="0.72" fill="#6e6e6e"/>
<path d="M602.50,110.00 C602.73,109.22 601.77,107.90 603.90,105.30 C606.03,102.70 611.68,97.78 615.30,94.40 C618.92,91.02 622.32,87.98 625.60,85.00 C628.88,82.02 632.45,78.68 635.00,76.50 C637.55,74.32 638.93,73.17 640.90,71.90 C642.87,70.63 644.85,69.65 646.80,68.90 C648.75,68.15 650.65,67.63 652.60,67.40 C654.55,67.17 656.53,67.03 658.50,67.50 C660.47,67.97 662.43,68.72 664.40,70.20 C666.37,71.68 668.33,73.70 670.30,76.40 C672.27,79.10 674.40,82.93 676.20,86.40 C678.00,89.87 679.97,94.60 681.10,97.20 C682.23,99.80 682.68,101.20 683.00,102.00" stroke="#c47ad2" stroke-width="0.8" fill="none"/>
<path d="M540.00,110.00 C540.22,109.27 539.12,107.80 541.30,105.60 C543.48,103.40 548.98,99.45 553.10,96.80 C557.22,94.15 562.42,91.60 566.00,89.70 C569.58,87.80 571.53,86.77 574.60,85.40 C577.67,84.03 581.50,82.63 584.40,81.50 C587.30,80.37 589.38,78.98 592.00,78.60 C594.62,78.22 597.05,78.25 600.10,79.20 C603.15,80.15 607.35,81.97 610.30,84.30 C613.25,86.63 615.70,89.70 617.80,93.20 C619.90,96.70 621.87,102.50 622.90,105.30 C623.93,108.10 623.82,109.22 624.00,110.00" stroke="#c4c400" stroke-width="1.05" fill="none" stroke-dasharray="2.2 1.1"/>
<path d="M519.50,110.00 C519.78,109.27 519.45,107.53 521.20,105.60 C522.95,103.67 527.20,100.43 530.00,98.40 C532.80,96.37 535.67,94.92 538.00,93.40 C540.33,91.88 541.82,90.63 544.00,89.30 C546.18,87.97 549.10,86.48 551.10,85.40 C553.10,84.32 553.78,83.95 556.00,82.80 C558.22,81.65 561.87,79.65 564.40,78.50 C566.93,77.35 568.93,76.63 571.20,75.90 C573.47,75.17 575.92,74.53 578.00,74.10 C580.08,73.67 581.80,73.43 583.70,73.30 C585.60,73.17 587.52,73.15 589.40,73.30 C591.28,73.45 592.78,73.78 595.00,74.20 C597.22,74.62 599.32,74.53 602.70,75.80 C606.08,77.07 610.75,78.90 615.30,81.80 C619.85,84.70 626.72,90.75 630.00,93.20 C633.28,95.65 632.87,94.43 635.00,96.50 C637.13,98.57 641.30,103.35 642.80,105.60 C644.30,107.85 643.80,109.27 644.00,110.00" stroke="#1a8c1a" stroke-width="1.05" fill="none" stroke-dasharray="2.6 0.8 0.8 0.8"/>
<path d="M640.00,62.50 C640.67,63.08 642.87,64.63 644.00,66.00 C645.13,67.37 645.85,68.28 646.80,70.70 C647.75,73.12 648.88,77.23 649.70,80.50 C650.52,83.77 651.05,86.12 651.70,90.30 C652.35,94.48 653.22,102.32 653.60,105.60 C653.98,108.88 653.93,109.27 654.00,110.00" stroke="#3333ff" stroke-width="0.8" fill="none" stroke-dasharray="0.8 0.8"/>
<path d="M584.00,110.00 C584.23,109.27 584.35,107.73 585.40,105.60 C586.45,103.47 588.27,100.75 590.30,97.20 C592.33,93.65 595.12,88.35 597.60,84.30 C600.08,80.25 602.25,75.85 605.20,72.90 C608.15,69.95 612.50,68.08 615.30,66.60 C618.10,65.12 619.77,64.85 622.00,64.00 C624.23,63.15 626.20,61.98 628.70,61.50 C631.20,61.02 634.57,60.65 637.00,61.10 C639.43,61.55 641.67,62.93 643.30,64.20 C644.93,65.47 645.57,66.63 646.80,68.70 C648.03,70.77 649.40,73.65 650.70,76.60 C652.00,79.55 653.47,83.13 654.60,86.40 C655.73,89.67 656.58,93.00 657.50,96.20 C658.42,99.40 659.52,103.30 660.10,105.60 C660.68,107.90 660.85,109.27 661.00,110.00" stroke="#0000ff" stroke-width="1.05" fill="none" stroke-dasharray="2.2 1.1"/>
<path d="M533.00,74.20 C533.45,73.97 534.80,72.80 535.70,72.80 C536.60,72.80 537.50,73.17 538.40,74.20 C539.30,75.23 540.32,77.53 541.10,79.00 C541.88,80.47 542.32,82.10 543.10,83.00 C543.88,83.90 544.88,84.40 545.80,84.40 C546.72,84.40 547.38,83.72 548.60,83.00 C549.82,82.28 551.60,81.05 553.10,80.10 C554.60,79.15 555.72,78.15 557.60,77.30 C559.48,76.45 562.13,75.67 564.40,75.00 C566.67,74.33 568.93,73.95 571.20,73.30 C573.47,72.65 575.92,71.62 578.00,71.10 C580.08,70.58 581.80,70.43 583.70,70.20 C585.60,69.97 587.52,69.80 589.40,69.70 C591.28,69.60 593.22,69.73 595.00,69.60 C596.78,69.47 597.55,69.33 600.10,68.90 C602.65,68.47 607.98,67.62 610.30,67.00 C612.62,66.38 612.25,65.90 614.00,65.20 C615.75,64.50 618.53,63.53 620.80,62.80 C623.07,62.07 625.33,61.27 627.60,60.80 C629.87,60.33 632.18,59.98 634.40,60.00 C636.62,60.02 639.00,59.98 640.90,60.90 C642.80,61.82 644.33,63.45 645.80,65.50 C647.27,67.55 648.57,70.37 649.70,73.20 C650.83,76.03 652.12,80.95 652.60,82.50" stroke="#141414" stroke-width="1.05" fill="none"/>
<path d="M649.70,73.20 C650.18,74.75 651.62,79.32 652.60,82.50 C653.58,85.68 654.62,89.37 655.60,92.30 C656.58,95.23 657.35,97.88 658.50,100.10 C659.65,102.32 661.58,103.95 662.50,105.60 C663.42,107.25 663.75,109.27 664.00,110.00" stroke="#3b1838" stroke-width="1.0" fill="none"/>
<path d="M503.60,110.00 C503.73,109.25 503.50,110.50 504.40,105.50 C505.30,100.50 507.68,87.58 509.00,80.00 C510.32,72.42 511.53,63.95 512.30,60.00 C513.07,56.05 513.15,56.30 513.60,56.30 C514.05,56.30 514.40,57.47 515.00,60.00 C515.60,62.53 516.53,67.17 517.20,71.50 C517.87,75.83 518.43,81.67 519.00,86.00 C519.57,90.33 520.00,96.17 520.60,97.50 C521.20,98.83 521.90,95.50 522.60,94.00 C523.30,92.50 523.75,90.78 524.80,88.50 C525.85,86.22 527.53,82.68 528.90,80.30 C530.27,77.92 531.87,75.45 533.00,74.20 C534.13,72.95 534.80,72.80 535.70,72.80 C536.60,72.80 537.95,73.97 538.40,74.20" stroke="#404040" stroke-width="0.85" fill="none"/>
<path d="M503.60,110.00 C503.73,109.25 503.50,110.50 504.40,105.50 C505.30,100.50 507.68,87.58 509.00,80.00 C510.32,72.42 511.53,63.95 512.30,60.00 C513.07,56.05 513.15,56.30 513.60,56.30 C514.05,56.30 514.40,57.47 515.00,60.00 C515.60,62.53 516.53,67.17 517.20,71.50 C517.87,75.83 518.47,81.67 519.00,86.00 C519.53,90.33 520.07,94.42 520.40,97.50 C520.73,100.58 520.73,104.08 521.00,104.50 C521.27,104.92 521.70,101.58 522.00,100.00 C522.30,98.42 522.33,96.92 522.80,95.00 C523.27,93.08 523.78,90.95 524.80,88.50 C525.82,86.05 527.53,82.68 528.90,80.30 C530.27,77.92 531.87,75.45 533.00,74.20 C534.13,72.95 534.80,72.77 535.70,72.80 C536.60,72.83 537.58,73.45 538.40,74.40 C539.22,75.35 539.97,77.15 540.60,78.50 C541.23,79.85 541.77,81.25 542.20,82.50 C542.63,83.75 542.90,84.80 543.20,86.00 C543.50,87.20 543.62,88.15 544.00,89.70 C544.38,91.25 544.87,93.87 545.50,95.30 C546.13,96.73 546.92,98.55 547.80,98.30 C548.68,98.05 549.67,95.12 550.80,93.80 C551.93,92.48 553.33,91.15 554.60,90.40 C555.87,89.65 557.40,89.37 558.40,89.30 C559.40,89.23 559.85,89.50 560.60,90.00 C561.35,90.50 562.13,91.28 562.90,92.30 C563.67,93.32 564.48,94.65 565.20,96.10 C565.92,97.55 566.28,99.42 567.20,101.00 C568.12,102.58 569.73,104.68 570.70,105.60 C571.67,106.52 572.02,106.60 573.00,106.50 C573.98,106.40 575.35,105.25 576.60,105.00 C577.85,104.75 579.20,104.87 580.50,105.00 C581.80,105.13 583.48,104.97 584.40,105.80 C585.32,106.63 585.73,109.30 586.00,110.00" stroke="#ff3a3a" stroke-width="1.05" fill="none" stroke-dasharray="2.6 0.8"/></g>
<line x1="494.30" y1="106.10" x2="494.30" y2="107.40" stroke="#e6e6e6" stroke-width="0.6"/>
<line x1="504.54" y1="106.10" x2="504.54" y2="107.40" stroke="#e6e6e6" stroke-width="0.6"/>
<line x1="514.78" y1="106.10" x2="514.78" y2="107.40" stroke="#e6e6e6" stroke-width="0.6"/>
<line x1="525.02" y1="106.10" x2="525.02" y2="107.40" stroke="#e6e6e6" stroke-width="0.6"/>
<line x1="535.26" y1="106.10" x2="535.26" y2="107.40" stroke="#e6e6e6" stroke-width="0.6"/>
<line x1="545.50" y1="106.10" x2="545.50" y2="107.40" stroke="#e6e6e6" stroke-width="0.6"/>
<line x1="555.73" y1="106.10" x2="555.73" y2="107.40" stroke="#e6e6e6" stroke-width="0.6"/>
<line x1="565.97" y1="106.10" x2="565.97" y2="107.40" stroke="#e6e6e6" stroke-width="0.6"/>
<line x1="576.21" y1="106.10" x2="576.21" y2="107.40" stroke="#e6e6e6" stroke-width="0.6"/>
<line x1="586.45" y1="106.10" x2="586.45" y2="107.40" stroke="#e6e6e6" stroke-width="0.6"/>
<line x1="596.69" y1="106.10" x2="596.69" y2="107.40" stroke="#e6e6e6" stroke-width="0.6"/>
<line x1="606.93" y1="106.10" x2="606.93" y2="107.40" stroke="#e6e6e6" stroke-width="0.6"/>
<line x1="617.17" y1="106.10" x2="617.17" y2="107.40" stroke="#e6e6e6" stroke-width="0.6"/>
<line x1="627.40" y1="106.10" x2="627.40" y2="107.40" stroke="#e6e6e6" stroke-width="0.6"/>
<line x1="637.64" y1="106.10" x2="637.64" y2="107.40" stroke="#e6e6e6" stroke-width="0.6"/>
<line x1="647.88" y1="106.10" x2="647.88" y2="107.40" stroke="#e6e6e6" stroke-width="0.6"/>
<line x1="658.12" y1="106.10" x2="658.12" y2="107.40" stroke="#e6e6e6" stroke-width="0.6"/>
<line x1="668.36" y1="106.10" x2="668.36" y2="107.40" stroke="#e6e6e6" stroke-width="0.6"/>
<line x1="678.60" y1="106.10" x2="678.60" y2="107.40" stroke="#e6e6e6" stroke-width="0.6"/>
<line x1="489.40" y1="105.60" x2="490.70" y2="105.60" stroke="#e6e6e6" stroke-width="0.6"/>
<line x1="489.40" y1="85.84" x2="490.70" y2="85.84" stroke="#e6e6e6" stroke-width="0.6"/>
<line x1="489.40" y1="66.08" x2="490.70" y2="66.08" stroke="#e6e6e6" stroke-width="0.6"/>
<line x1="489.40" y1="46.32" x2="490.70" y2="46.32" stroke="#e6e6e6" stroke-width="0.6"/>
<line x1="489.40" y1="26.56" x2="490.70" y2="26.56" stroke="#e6e6e6" stroke-width="0.6"/>
<line x1="489.40" y1="6.80" x2="490.70" y2="6.80" stroke="#e6e6e6" stroke-width="0.6"/>
<text x="494.30" y="111.60" text-anchor="middle" textLength="6.12" lengthAdjust="spacingAndGlyphs">-4</text>
<text x="504.54" y="111.60" text-anchor="middle" textLength="6.12" lengthAdjust="spacingAndGlyphs">-3</text>
<text x="514.78" y="111.60" text-anchor="middle" textLength="6.12" lengthAdjust="spacingAndGlyphs">-2</text>
<text x="525.02" y="111.60" text-anchor="middle" textLength="6.12" lengthAdjust="spacingAndGlyphs">-1</text>
<text x="535.26" y="111.60" text-anchor="middle" textLength="3.72" lengthAdjust="spacingAndGlyphs">0</text>
<text x="545.50" y="111.60" text-anchor="middle" textLength="3.72" lengthAdjust="spacingAndGlyphs">1</text>
<text x="555.73" y="111.60" text-anchor="middle" textLength="3.72" lengthAdjust="spacingAndGlyphs">2</text>
<text x="565.97" y="111.60" text-anchor="middle" textLength="3.72" lengthAdjust="spacingAndGlyphs">3</text>
<text x="576.21" y="111.60" text-anchor="middle" textLength="3.72" lengthAdjust="spacingAndGlyphs">4</text>
<text x="586.45" y="111.60" text-anchor="middle" textLength="3.72" lengthAdjust="spacingAndGlyphs">5</text>
<text x="596.69" y="111.60" text-anchor="middle" textLength="3.72" lengthAdjust="spacingAndGlyphs">6</text>
<text x="606.93" y="111.60" text-anchor="middle" textLength="3.72" lengthAdjust="spacingAndGlyphs">7</text>
<text x="617.17" y="111.60" text-anchor="middle" textLength="3.72" lengthAdjust="spacingAndGlyphs">8</text>
<text x="627.40" y="111.60" text-anchor="middle" textLength="3.72" lengthAdjust="spacingAndGlyphs">9</text>
<text x="637.64" y="111.60" text-anchor="middle" textLength="7.44" lengthAdjust="spacingAndGlyphs">10</text>
<text x="647.88" y="111.60" text-anchor="middle" textLength="7.44" lengthAdjust="spacingAndGlyphs">11</text>
<text x="658.12" y="111.60" text-anchor="middle" textLength="7.44" lengthAdjust="spacingAndGlyphs">12</text>
<text x="668.36" y="111.60" text-anchor="middle" textLength="7.44" lengthAdjust="spacingAndGlyphs">13</text>
<text x="678.60" y="111.60" text-anchor="middle" textLength="7.44" lengthAdjust="spacingAndGlyphs">14</text>
<text x="489.20" y="108.20" text-anchor="end" font-size="7.3" textLength="10.43" lengthAdjust="spacingAndGlyphs">-15</text>
<text x="489.20" y="88.44" text-anchor="end" font-size="7.3" textLength="10.43" lengthAdjust="spacingAndGlyphs">-14</text>
<text x="489.20" y="68.68" text-anchor="end" font-size="7.3" textLength="10.43" lengthAdjust="spacingAndGlyphs">-13</text>
<text x="489.20" y="48.92" text-anchor="end" font-size="7.3" textLength="10.43" lengthAdjust="spacingAndGlyphs">-12</text>
<text x="489.20" y="29.16" text-anchor="end" font-size="7.3" textLength="10.43" lengthAdjust="spacingAndGlyphs">-11</text>
<text x="489.20" y="9.40" text-anchor="end" font-size="7.3" textLength="10.43" lengthAdjust="spacingAndGlyphs">-10</text>
<text x="567.30" y="118.70" font-size="7.0" textLength="12.30" lengthAdjust="spacingAndGlyphs">log(</text>
<text x="579.50" y="118.70" font-size="7.0" textLength="4.30" lengthAdjust="spacingAndGlyphs" font-style="italic">E</text>
<text x="584.40" y="120.20" font-size="5.2" textLength="3.00" lengthAdjust="spacingAndGlyphs">γ</text>
<text x="587.20" y="118.70" font-size="7.0" textLength="2.40" lengthAdjust="spacingAndGlyphs">)</text>
<text x="589.40" y="118.70" font-size="7.0" textLength="15.00" lengthAdjust="spacingAndGlyphs">[eV]</text>
<g transform="translate(474.20,98.00) rotate(-90)"><text x="-0.25" y="0" font-size="6.8" textLength="14.40" lengthAdjust="spacingAndGlyphs">log(</text><text x="13.65" y="0" font-size="6.8" textLength="4.40" lengthAdjust="spacingAndGlyphs" font-style="italic">E</text><text x="17.25" y="1.4" font-size="4.5" textLength="2.50" lengthAdjust="spacingAndGlyphs">γ</text><text x="19.45" y="0" font-size="6.8" textLength="4.70" lengthAdjust="spacingAndGlyphs" font-style="italic">F</text><text x="23.95" y="1.4" font-size="4.4" textLength="3.70" lengthAdjust="spacingAndGlyphs" font-style="italic">E</text><text x="27.15" y="2.0" font-size="3.2" textLength="3.10" lengthAdjust="spacingAndGlyphs">γ</text><text x="29.95" y="0" font-size="6.8" textLength="6.20" lengthAdjust="spacingAndGlyphs">)[</text><text x="35.65" y="0" font-size="6.8" textLength="11.20" lengthAdjust="spacingAndGlyphs">erg</text><text x="48.05" y="0" font-size="6.8" textLength="4.40" lengthAdjust="spacingAndGlyphs">s</text><text x="52.65" y="-3.0" font-size="4.2" textLength="6.50" lengthAdjust="spacingAndGlyphs">−1</text><text x="63.45" y="0" font-size="6.8" textLength="9.00" lengthAdjust="spacingAndGlyphs">cm</text><text x="72.65" y="-3.0" font-size="4.2" textLength="6.50" lengthAdjust="spacingAndGlyphs">−2</text><text x="79.45" y="0" font-size="6.8" textLength="2.70" lengthAdjust="spacingAndGlyphs">]</text></g>
<text x="586.45" y="5.10" text-anchor="middle" font-size="8.3" style="stroke-width:0.1px" textLength="31.3" lengthAdjust="spacingAndGlyphs">NGC2329</text>
<rect x="492.20" y="9.40" width="187" height="13.8" rx="1.2" fill="#fff" fill-opacity="0.8" stroke="#e4e4e4" stroke-width="0.8"/>
<line x1="495.10" y1="12.50" x2="504.50" y2="12.50" stroke="#000" stroke-width="1.0"/>
<text x="508.10" y="14.50" font-size="5.7" style="stroke-width:0.1px" textLength="11.0" lengthAdjust="spacingAndGlyphs">Total</text>
<line x1="495.10" y1="19.50" x2="504.50" y2="19.50" stroke="#ff0000" stroke-width="1.0" stroke-dasharray="3.0 0.75"/>
<text x="508.10" y="21.20" font-size="5.7" style="stroke-width:0.1px" textLength="41.0" lengthAdjust="spacingAndGlyphs">Thermal electrons</text>
<line x1="558.90" y1="12.50" x2="568.30" y2="12.50" stroke="#0000ff" stroke-width="1.0" stroke-dasharray="3.0 0.75"/>
<text x="571.70" y="14.50" font-size="5.7" style="stroke-width:0.1px" textLength="43.2" lengthAdjust="spacingAndGlyphs">Proton synchrotron</text>
<line x1="558.90" y1="19.50" x2="568.30" y2="19.50" stroke="#c47ad2" stroke-width="1.0" stroke-dasharray="0.9 0.9"/>
<text x="571.70" y="21.20" font-size="5.7" style="stroke-width:0.1px" textLength="42.1" lengthAdjust="spacingAndGlyphs">Bethe-Heitler pairs</text>
<line x1="624.70" y1="12.50" x2="634.10" y2="12.50" stroke="#008000" stroke-width="1.0" stroke-dasharray="3.2 0.8 0.8 0.8"/>
<text x="637.60" y="14.50" font-size="5.7" style="stroke-width:0.1px" textLength="19.0" lengthAdjust="spacingAndGlyphs">γγ pairs</text>
<line x1="624.70" y1="19.50" x2="634.10" y2="19.50" stroke="#bfbf00" stroke-width="1.0" stroke-dasharray="3.0 0.75"/>
<text x="637.60" y="21.20" font-size="5.7" style="stroke-width:0.1px" textLength="40.0" lengthAdjust="spacingAndGlyphs">Primary electrons</text>
<rect x="255.60" y="149.8" width="190.60" height="99.50" fill="none" stroke="#d6d6d6" stroke-width="1.3"/>
<clipPath id="cCenA"><rect x="255.9" y="149.8" width="190.50" height="99.50"/></clipPath>
<g clip-path="url(#cCenA)"><polygon points="415.9,225.6 433.1,234.8 433.1,244.5 431.5,249.3 431,249.3 430.5,243 428.5,240.1 424.5,237.5 420.6,234.2 417.9,230.2" fill="#dfdf80"/>
<circle cx="261.30" cy="200.60" r="0.72" fill="#7a7a7a"/>
<circle cx="261.30" cy="206.70" r="0.72" fill="#7a7a7a"/>
<circle cx="267.30" cy="205.90" r="0.72" fill="#7a7a7a"/>
<circle cx="269.90" cy="204.40" r="0.72" fill="#7a7a7a"/>
<circle cx="272.30" cy="201.80" r="0.72" fill="#7a7a7a"/>
<circle cx="273.80" cy="196.10" r="0.72" fill="#7a7a7a"/>
<circle cx="276.40" cy="193.80" r="0.72" fill="#7a7a7a"/>
<circle cx="291.90" cy="180.30" r="0.72" fill="#7a7a7a"/>
<circle cx="293.40" cy="178.80" r="0.72" fill="#7a7a7a"/>
<circle cx="296.90" cy="179.60" r="0.72" fill="#7a7a7a"/>
<circle cx="299.90" cy="180.70" r="0.72" fill="#7a7a7a"/>
<circle cx="300.70" cy="186.40" r="0.72" fill="#7a7a7a"/>
<circle cx="301.10" cy="188.70" r="0.72" fill="#7a7a7a"/>
<circle cx="303.80" cy="195.00" r="0.72" fill="#7a7a7a"/>
<circle cx="261.20" cy="223.00" r="0.72" fill="#7a7a7a"/>
<circle cx="261.60" cy="228.40" r="0.72" fill="#7a7a7a"/>
<circle cx="257.30" cy="232.40" r="0.72" fill="#7a7a7a"/>
<circle cx="257.30" cy="235.80" r="0.72" fill="#7a7a7a"/>
<circle cx="336.50" cy="180.60" r="0.72" fill="#7a7a7a"/>
<circle cx="339.00" cy="179.50" r="0.72" fill="#7a7a7a"/>
<circle cx="341.20" cy="179.50" r="0.72" fill="#7a7a7a"/>
<circle cx="340.10" cy="176.90" r="0.72" fill="#7a7a7a"/>
<circle cx="341.80" cy="176.30" r="0.72" fill="#7a7a7a"/>
<circle cx="344.10" cy="175.20" r="0.72" fill="#7a7a7a"/>
<circle cx="347.40" cy="174.50" r="0.72" fill="#7a7a7a"/>
<circle cx="349.60" cy="173.80" r="0.72" fill="#7a7a7a"/>
<circle cx="351.90" cy="173.00" r="0.72" fill="#7a7a7a"/>
<circle cx="354.20" cy="170.80" r="0.72" fill="#7a7a7a"/>
<circle cx="354.70" cy="171.90" r="0.72" fill="#7a7a7a"/>
<circle cx="356.80" cy="174.50" r="0.72" fill="#7a7a7a"/>
<circle cx="359.50" cy="175.90" r="0.72" fill="#7a7a7a"/>
<circle cx="360.40" cy="172.70" r="0.72" fill="#7a7a7a"/>
<circle cx="364.30" cy="178.10" r="0.72" fill="#7a7a7a"/>
<circle cx="369.40" cy="181.00" r="0.72" fill="#7a7a7a"/>
<circle cx="374.00" cy="178.30" r="0.72" fill="#7a7a7a"/>
<circle cx="341.40" cy="179.30" r="0.72" fill="#7a7a7a"/>
<circle cx="370.80" cy="181.00" r="0.72" fill="#7a7a7a"/>
<circle cx="374.20" cy="178.10" r="0.72" fill="#7a7a7a"/>
<circle cx="379.30" cy="189.50" r="0.72" fill="#7a7a7a"/>
<circle cx="383.60" cy="194.60" r="0.72" fill="#7a7a7a"/>
<circle cx="386.10" cy="197.20" r="0.72" fill="#7a7a7a"/>
<circle cx="388.70" cy="200.20" r="0.72" fill="#7a7a7a"/>
<circle cx="391.20" cy="203.60" r="0.72" fill="#7a7a7a"/>
<circle cx="393.80" cy="206.50" r="0.72" fill="#7a7a7a"/>
<circle cx="396.30" cy="209.40" r="0.72" fill="#7a7a7a"/>
<path d="M368.00,253.00 C368.22,252.25 367.18,250.90 369.30,248.50 C371.42,246.10 377.07,241.63 380.70,238.60 C384.33,235.57 388.55,232.07 391.10,230.30 C393.65,228.53 393.80,229.38 396.00,228.00 C398.20,226.62 401.53,223.62 404.30,222.00 C407.07,220.38 410.18,219.03 412.60,218.30 C415.02,217.57 416.73,217.62 418.80,217.60 C420.87,217.58 422.92,217.50 425.00,218.20 C427.08,218.90 429.22,220.13 431.30,221.80 C433.38,223.47 435.60,225.73 437.50,228.20 C439.40,230.67 441.20,233.53 442.70,236.60 C444.20,239.67 445.62,244.20 446.50,246.60 C447.38,249.00 447.75,250.27 448.00,251.00" stroke="#c47ad2" stroke-width="0.8" fill="none"/>
<path d="M301.50,253.00 C301.62,252.28 299.95,250.62 302.20,248.70 C304.45,246.78 311.20,243.53 315.00,241.50 C318.80,239.47 321.60,238.10 325.00,236.50 C328.40,234.90 331.95,233.35 335.40,231.90 C338.85,230.45 342.25,228.93 345.70,227.80 C349.15,226.67 353.38,225.60 356.10,225.10 C358.82,224.60 359.97,224.77 362.00,224.80 C364.03,224.83 365.87,224.22 368.30,225.30 C370.73,226.38 374.18,229.08 376.60,231.30 C379.02,233.52 380.90,235.73 382.80,238.60 C384.70,241.47 386.97,246.10 388.00,248.50 C389.03,250.90 388.83,252.25 389.00,253.00" stroke="#c4c400" stroke-width="1.05" fill="none" stroke-dasharray="2.2 1.1"/>
<path d="M301.50,253.00 C301.62,252.28 299.95,250.70 302.20,248.70 C304.45,246.70 311.20,243.20 315.00,241.00 C318.80,238.80 321.60,237.22 325.00,235.50 C328.40,233.78 331.95,232.27 335.40,230.70 C338.85,229.13 342.25,227.32 345.70,226.10 C349.15,224.88 353.38,223.85 356.10,223.40 C358.82,222.95 359.62,223.30 362.00,223.40 C364.38,223.50 367.28,223.20 370.40,224.00 C373.52,224.80 377.25,226.63 380.70,228.20 C384.15,229.77 387.88,231.67 391.10,233.40 C394.32,235.13 397.80,237.22 400.00,238.60 C402.20,239.98 402.72,240.05 404.30,241.70 C405.88,243.35 408.47,246.62 409.50,248.50 C410.53,250.38 410.33,252.25 410.50,253.00" stroke="#1a8c1a" stroke-width="1.05" fill="none" stroke-dasharray="2.6 0.8 0.8 0.8"/>
<path d="M402.00,212.50 C402.73,213.03 404.98,213.62 406.40,215.70 C407.82,217.78 409.30,221.87 410.50,225.00 C411.70,228.13 412.60,231.33 413.60,234.50 C414.60,237.67 415.85,241.58 416.50,244.00 C417.15,246.42 417.25,247.50 417.50,249.00 C417.75,250.50 417.92,252.33 418.00,253.00" stroke="#3333ff" stroke-width="0.8" fill="none" stroke-dasharray="0.8 0.8"/>
<path d="M354.00,253.00 C354.18,252.25 354.10,250.38 355.10,248.50 C356.10,246.62 358.15,244.73 360.00,241.70 C361.85,238.67 364.13,233.58 366.20,230.30 C368.27,227.02 369.98,224.43 372.40,222.00 C374.82,219.57 377.93,217.27 380.70,215.70 C383.47,214.13 386.45,213.32 389.00,212.60 C391.55,211.88 393.80,211.57 396.00,211.40 C398.20,211.23 400.13,210.88 402.20,211.60 C404.27,212.32 406.67,214.05 408.40,215.70 C410.13,217.35 411.23,219.42 412.60,221.50 C413.97,223.58 415.38,225.53 416.60,228.20 C417.82,230.87 418.92,234.63 419.90,237.50 C420.88,240.37 421.95,243.53 422.50,245.40 C423.05,247.27 422.95,247.43 423.20,248.70 C423.45,249.97 423.87,252.28 424.00,253.00" stroke="#0000ff" stroke-width="1.05" fill="none" stroke-dasharray="2.2 1.1"/>
<path d="M300.20,224.90 C301.00,224.28 303.52,221.32 305.00,221.20 C306.48,221.08 307.85,222.78 309.10,224.20 C310.35,225.62 311.38,228.00 312.50,229.70 C313.62,231.40 314.80,233.72 315.80,234.40 C316.80,235.08 317.47,234.25 318.50,233.80 C319.53,233.35 320.68,232.43 322.00,231.70 C323.32,230.97 324.57,230.27 326.40,229.40 C328.23,228.53 330.73,227.38 333.00,226.50 C335.27,225.62 337.88,224.85 340.00,224.10 C342.12,223.35 343.37,222.80 345.70,222.00 C348.03,221.20 350.78,219.93 354.00,219.30 C357.22,218.67 362.27,218.45 365.00,218.20 C367.73,217.95 367.78,218.22 370.40,217.80 C373.02,217.38 377.60,216.57 380.70,215.70 C383.80,214.83 386.45,213.45 389.00,212.60 C391.55,211.75 393.80,211.05 396.00,210.60 C398.20,210.15 400.30,209.77 402.20,209.90 C404.10,210.03 405.83,210.47 407.40,211.40 C408.97,212.33 410.38,213.73 411.60,215.50 C412.82,217.27 413.67,219.72 414.70,222.00 C415.73,224.28 417.28,228.00 417.80,229.20" stroke="#141414" stroke-width="1.05" fill="none"/>
<path d="M414.70,222.00 C415.22,223.27 416.82,227.57 417.80,229.60 C418.78,231.63 419.48,232.88 420.60,234.20 C421.72,235.52 423.18,236.52 424.50,237.50 C425.82,238.48 427.50,239.23 428.50,240.10 C429.50,240.97 430.02,241.60 430.50,242.70 C430.98,243.80 431.18,245.60 431.40,246.70 C431.62,247.80 431.70,248.25 431.80,249.30 C431.90,250.35 431.97,252.38 432.00,253.00" stroke="#3b1838" stroke-width="1.0" fill="none"/>
<path d="M273.40,253.00 C273.53,252.28 273.35,252.87 274.20,248.70 C275.05,244.53 277.15,234.45 278.50,228.00 C279.85,221.55 281.45,213.78 282.30,210.00 C283.15,206.22 283.15,205.47 283.60,205.30 C284.05,205.13 284.43,206.73 285.00,209.00 C285.57,211.27 286.20,214.73 287.00,218.90 C287.80,223.07 289.07,230.18 289.80,234.00 C290.53,237.82 290.78,240.88 291.40,241.80 C292.02,242.72 292.70,241.07 293.50,239.50 C294.30,237.93 295.08,234.83 296.20,232.40 C297.32,229.97 298.73,226.77 300.20,224.90 C301.67,223.03 303.52,221.32 305.00,221.20 C306.48,221.08 308.42,223.70 309.10,224.20" stroke="#404040" stroke-width="0.85" fill="none"/>
<path d="M273.40,253.00 C273.53,252.28 273.35,252.87 274.20,248.70 C275.05,244.53 277.15,234.45 278.50,228.00 C279.85,221.55 281.45,213.78 282.30,210.00 C283.15,206.22 283.15,205.47 283.60,205.30 C284.05,205.13 284.43,206.73 285.00,209.00 C285.57,211.27 286.20,214.73 287.00,218.90 C287.80,223.07 289.05,229.65 289.80,234.00 C290.55,238.35 290.88,243.75 291.50,245.00 C292.12,246.25 292.72,243.60 293.50,241.50 C294.28,239.40 295.08,235.17 296.20,232.40 C297.32,229.63 298.73,226.77 300.20,224.90 C301.67,223.03 303.52,221.32 305.00,221.20 C306.48,221.08 308.08,223.13 309.10,224.20 C310.12,225.27 310.32,225.90 311.10,227.60 C311.88,229.30 313.07,232.25 313.80,234.40 C314.53,236.55 314.95,238.80 315.50,240.50 C316.05,242.20 316.35,244.25 317.10,244.60 C317.85,244.95 319.02,243.37 320.00,242.60 C320.98,241.83 321.85,240.70 323.00,240.00 C324.15,239.30 325.73,238.43 326.90,238.40 C328.07,238.37 328.93,238.93 330.00,239.80 C331.07,240.67 332.20,242.12 333.30,243.60 C334.40,245.08 335.90,247.13 336.60,248.70 C337.30,250.27 337.35,252.28 337.50,253.00" stroke="#ff3a3a" stroke-width="1.05" fill="none" stroke-dasharray="2.6 0.8"/></g>
<line x1="262.40" y1="249.80" x2="262.40" y2="251.10" stroke="#e6e6e6" stroke-width="0.6"/>
<line x1="272.43" y1="249.80" x2="272.43" y2="251.10" stroke="#e6e6e6" stroke-width="0.6"/>
<line x1="282.45" y1="249.80" x2="282.45" y2="251.10" stroke="#e6e6e6" stroke-width="0.6"/>
<line x1="292.47" y1="249.80" x2="292.47" y2="251.10" stroke="#e6e6e6" stroke-width="0.6"/>
<line x1="302.49" y1="249.80" x2="302.49" y2="251.10" stroke="#e6e6e6" stroke-width="0.6"/>
<line x1="312.51" y1="249.80" x2="312.51" y2="251.10" stroke="#e6e6e6" stroke-width="0.6"/>
<line x1="322.54" y1="249.80" x2="322.54" y2="251.10" stroke="#e6e6e6" stroke-width="0.6"/>
<line x1="332.56" y1="249.80" x2="332.56" y2="251.10" stroke="#e6e6e6" stroke-width="0.6"/>
<line x1="342.58" y1="249.80" x2="342.58" y2="251.10" stroke="#e6e6e6" stroke-width="0.6"/>
<line x1="352.60" y1="249.80" x2="352.60" y2="251.10" stroke="#e6e6e6" stroke-width="0.6"/>
<line x1="362.63" y1="249.80" x2="362.63" y2="251.10" stroke="#e6e6e6" stroke-width="0.6"/>
<line x1="372.65" y1="249.80" x2="372.65" y2="251.10" stroke="#e6e6e6" stroke-width="0.6"/>
<line x1="382.67" y1="249.80" x2="382.67" y2="251.10" stroke="#e6e6e6" stroke-width="0.6"/>
<line x1="392.69" y1="249.80" x2="392.69" y2="251.10" stroke="#e6e6e6" stroke-width="0.6"/>
<line x1="402.71" y1="249.80" x2="402.71" y2="251.10" stroke="#e6e6e6" stroke-width="0.6"/>
<line x1="412.74" y1="249.80" x2="412.74" y2="251.10" stroke="#e6e6e6" stroke-width="0.6"/>
<line x1="422.76" y1="249.80" x2="422.76" y2="251.10" stroke="#e6e6e6" stroke-width="0.6"/>
<line x1="432.78" y1="249.80" x2="432.78" y2="251.10" stroke="#e6e6e6" stroke-width="0.6"/>
<line x1="442.80" y1="249.80" x2="442.80" y2="251.10" stroke="#e6e6e6" stroke-width="0.6"/>
<line x1="254.10" y1="237.60" x2="255.40" y2="237.60" stroke="#e6e6e6" stroke-width="0.6"/>
<line x1="254.10" y1="221.10" x2="255.40" y2="221.10" stroke="#e6e6e6" stroke-width="0.6"/>
<line x1="254.10" y1="204.60" x2="255.40" y2="204.60" stroke="#e6e6e6" stroke-width="0.6"/>
<line x1="254.10" y1="188.10" x2="255.40" y2="188.10" stroke="#e6e6e6" stroke-width="0.6"/>
<line x1="254.10" y1="171.60" x2="255.40" y2="171.60" stroke="#e6e6e6" stroke-width="0.6"/>
<line x1="254.10" y1="155.10" x2="255.40" y2="155.10" stroke="#e6e6e6" stroke-width="0.6"/>
<text x="262.40" y="255.30" text-anchor="middle" textLength="6.12" lengthAdjust="spacingAndGlyphs">-4</text>
<text x="272.43" y="255.30" text-anchor="middle" textLength="6.12" lengthAdjust="spacingAndGlyphs">-3</text>
<text x="282.45" y="255.30" text-anchor="middle" textLength="6.12" lengthAdjust="spacingAndGlyphs">-2</text>
<text x="292.47" y="255.30" text-anchor="middle" textLength="6.12" lengthAdjust="spacingAndGlyphs">-1</text>
<text x="302.49" y="255.30" text-anchor="middle" textLength="3.72" lengthAdjust="spacingAndGlyphs">0</text>
<text x="312.51" y="255.30" text-anchor="middle" textLength="3.72" lengthAdjust="spacingAndGlyphs">1</text>
<text x="322.54" y="255.30" text-anchor="middle" textLength="3.72" lengthAdjust="spacingAndGlyphs">2</text>
<text x="332.56" y="255.30" text-anchor="middle" textLength="3.72" lengthAdjust="spacingAndGlyphs">3</text>
<text x="342.58" y="255.30" text-anchor="middle" textLength="3.72" lengthAdjust="spacingAndGlyphs">4</text>
<text x="352.60" y="255.30" text-anchor="middle" textLength="3.72" lengthAdjust="spacingAndGlyphs">5</text>
<text x="362.63" y="255.30" text-anchor="middle" textLength="3.72" lengthAdjust="spacingAndGlyphs">6</text>
<text x="372.65" y="255.30" text-anchor="middle" textLength="3.72" lengthAdjust="spacingAndGlyphs">7</text>
<text x="382.67" y="255.30" text-anchor="middle" textLength="3.72" lengthAdjust="spacingAndGlyphs">8</text>
<text x="392.69" y="255.30" text-anchor="middle" textLength="3.72" lengthAdjust="spacingAndGlyphs">9</text>
<text x="402.71" y="255.30" text-anchor="middle" textLength="7.44" lengthAdjust="spacingAndGlyphs">10</text>
<text x="412.74" y="255.30" text-anchor="middle" textLength="7.44" lengthAdjust="spacingAndGlyphs">11</text>
<text x="422.76" y="255.30" text-anchor="middle" textLength="7.44" lengthAdjust="spacingAndGlyphs">12</text>
<text x="432.78" y="255.30" text-anchor="middle" textLength="7.44" lengthAdjust="spacingAndGlyphs">13</text>
<text x="442.80" y="255.30" text-anchor="middle" textLength="7.44" lengthAdjust="spacingAndGlyphs">14</text>
<text x="253.90" y="240.20" text-anchor="end" font-size="7.3" textLength="10.43" lengthAdjust="spacingAndGlyphs">-13</text>
<text x="253.90" y="223.70" text-anchor="end" font-size="7.3" textLength="10.43" lengthAdjust="spacingAndGlyphs">-12</text>
<text x="253.90" y="207.20" text-anchor="end" font-size="7.3" textLength="10.43" lengthAdjust="spacingAndGlyphs">-11</text>
<text x="253.90" y="190.70" text-anchor="end" font-size="7.3" textLength="10.43" lengthAdjust="spacingAndGlyphs">-10</text>
<text x="253.90" y="174.20" text-anchor="end" font-size="7.3" textLength="6.49" lengthAdjust="spacingAndGlyphs">-9</text>
<text x="253.90" y="157.70" text-anchor="end" font-size="7.3" textLength="6.49" lengthAdjust="spacingAndGlyphs">-8</text>
<text x="332.00" y="262.40" font-size="7.0" textLength="12.30" lengthAdjust="spacingAndGlyphs">log(</text>
<text x="344.20" y="262.40" font-size="7.0" textLength="4.30" lengthAdjust="spacingAndGlyphs" font-style="italic">E</text>
<text x="349.10" y="263.90" font-size="5.2" textLength="3.00" lengthAdjust="spacingAndGlyphs">γ</text>
<text x="351.90" y="262.40" font-size="7.0" textLength="2.40" lengthAdjust="spacingAndGlyphs">)</text>
<text x="354.10" y="262.40" font-size="7.0" textLength="15.00" lengthAdjust="spacingAndGlyphs">[eV]</text>
<g transform="translate(238.90,241.35) rotate(-90)"><text x="-0.25" y="0" font-size="6.8" textLength="14.40" lengthAdjust="spacingAndGlyphs">log(</text><text x="13.65" y="0" font-size="6.8" textLength="4.40" lengthAdjust="spacingAndGlyphs" font-style="italic">E</text><text x="17.25" y="1.4" font-size="4.5" textLength="2.50" lengthAdjust="spacingAndGlyphs">γ</text><text x="19.45" y="0" font-size="6.8" textLength="4.70" lengthAdjust="spacingAndGlyphs" font-style="italic">F</text><text x="23.95" y="1.4" font-size="4.4" textLength="3.70" lengthAdjust="spacingAndGlyphs" font-style="italic">E</text><text x="27.15" y="2.0" font-size="3.2" textLength="3.10" lengthAdjust="spacingAndGlyphs">γ</text><text x="29.95" y="0" font-size="6.8" textLength="6.20" lengthAdjust="spacingAndGlyphs">)[</text><text x="35.65" y="0" font-size="6.8" textLength="11.20" lengthAdjust="spacingAndGlyphs">erg</text><text x="48.05" y="0" font-size="6.8" textLength="4.40" lengthAdjust="spacingAndGlyphs">s</text><text x="52.65" y="-3.0" font-size="4.2" textLength="6.50" lengthAdjust="spacingAndGlyphs">−1</text><text x="63.45" y="0" font-size="6.8" textLength="9.00" lengthAdjust="spacingAndGlyphs">cm</text><text x="72.65" y="-3.0" font-size="4.2" textLength="6.50" lengthAdjust="spacingAndGlyphs">−2</text><text x="79.45" y="0" font-size="6.8" textLength="2.70" lengthAdjust="spacingAndGlyphs">]</text></g>
<text x="351.15" y="148.10" text-anchor="middle" font-size="8.3" style="stroke-width:0.1px" textLength="17.9" lengthAdjust="spacingAndGlyphs">CenA</text>
<rect x="256.90" y="152.40" width="187" height="13.8" rx="1.2" fill="#fff" fill-opacity="0.8" stroke="#e4e4e4" stroke-width="0.8"/>
<line x1="259.80" y1="155.50" x2="269.20" y2="155.50" stroke="#000" stroke-width="1.0"/>
<text x="272.80" y="157.50" font-size="5.7" style="stroke-width:0.1px" textLength="11.0" lengthAdjust="spacingAndGlyphs">Total</text>
<line x1="259.80" y1="162.50" x2="269.20" y2="162.50" stroke="#ff0000" stroke-width="1.0" stroke-dasharray="3.0 0.75"/>
<text x="272.80" y="164.20" font-size="5.7" style="stroke-width:0.1px" textLength="41.0" lengthAdjust="spacingAndGlyphs">Thermal electrons</text>
<line x1="323.60" y1="155.50" x2="333.00" y2="155.50" stroke="#0000ff" stroke-width="1.0" stroke-dasharray="3.0 0.75"/>
<text x="336.40" y="157.50" font-size="5.7" style="stroke-width:0.1px" textLength="43.2" lengthAdjust="spacingAndGlyphs">Proton synchrotron</text>
<line x1="323.60" y1="162.50" x2="333.00" y2="162.50" stroke="#c47ad2" stroke-width="1.0" stroke-dasharray="0.9 0.9"/>
<text x="336.40" y="164.20" font-size="5.7" style="stroke-width:0.1px" textLength="42.1" lengthAdjust="spacingAndGlyphs">Bethe-Heitler pairs</text>
<line x1="389.40" y1="155.50" x2="398.80" y2="155.50" stroke="#008000" stroke-width="1.0" stroke-dasharray="3.2 0.8 0.8 0.8"/>
<text x="402.30" y="157.50" font-size="5.7" style="stroke-width:0.1px" textLength="19.0" lengthAdjust="spacingAndGlyphs">γγ pairs</text>
<line x1="389.40" y1="162.50" x2="398.80" y2="162.50" stroke="#bfbf00" stroke-width="1.0" stroke-dasharray="3.0 0.75"/>
<text x="402.30" y="164.20" font-size="5.7" style="stroke-width:0.1px" textLength="40.0" lengthAdjust="spacingAndGlyphs">Primary electrons</text>
</g>
</svg>
</body></html>
